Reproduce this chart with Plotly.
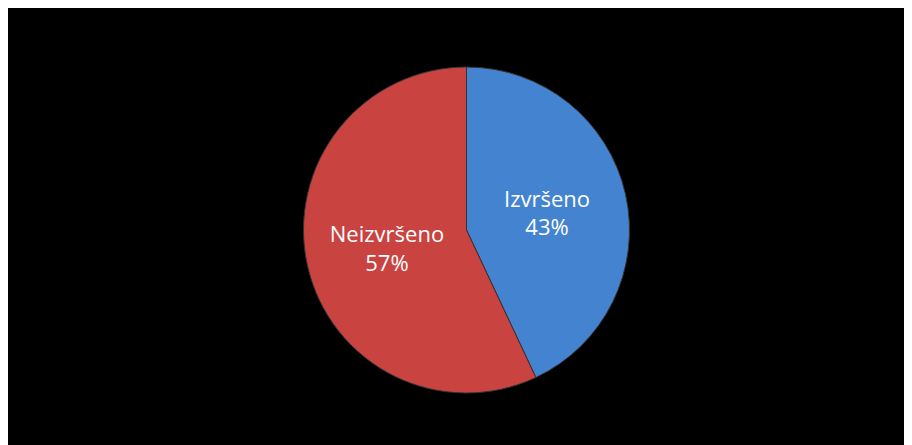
import plotly.graph_objects as go

labels = ["Izvršeno", "Neizvršeno"]
values = [43, 57]
colors = ["#4483d0", "#c94341"]

# figure is drawn inside the page's 8px body margin
W, H = 904, 437
cx, cy, r = 458.5, 222, 163

fig = go.Figure(go.Pie(
    labels=labels,
    values=values,
    sort=False,
    direction="clockwise",
    rotation=0,
    marker=dict(colors=colors, line=dict(color="#333333", width=1)),
    texttemplate="%{label}<br>%{percent:.0%}",
    textposition="inside",
    insidetextorientation="horizontal",
    textfont=dict(family="Open Sans, Liberation Sans, sans-serif", size=22, color="white"),
    hoverinfo="label+percent",
    showlegend=False,
    domain=dict(x=[(cx - r) / W, (cx + r) / W], y=[1 - (cy + r) / H, 1 - (cy - r) / H]),
))

fig.update_layout(
    width=W, height=H,
    margin=dict(l=0, r=0, t=0, b=0),
    paper_bgcolor="black",
    plot_bgcolor="black",
)

fig.write_html("out.html")
